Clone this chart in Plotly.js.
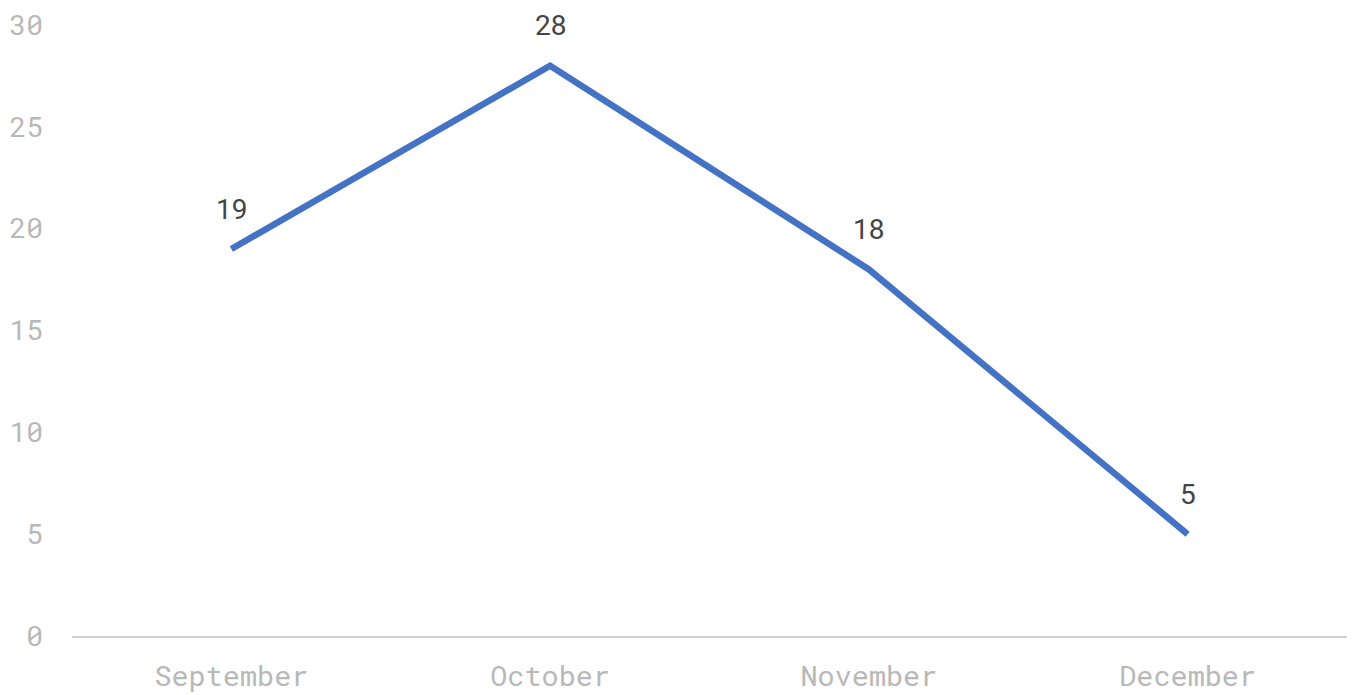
<!DOCTYPE html>
<html><head><meta charset="utf-8">
<script src="https://cdn.plot.ly/plotly-3.0.1.min.js"></script>
<style>html,body{margin:0;padding:0;background:#fff}#chart{width:1352px;height:695px}</style>
</head><body><div id="chart"></div>
<script>
const months = ["September", "October", "November", "December"];
const values = [19, 28, 18, 5];
const yTicks = [0, 5, 10, 15, 20, 25, 30];

const trace = {
  x: months, y: values, type: "scatter", mode: "lines",
  line: {color: "#4472C4", width: 6.5}, hoverinfo: "x+y"
};
const annotations = months.map((m, i) => ({
  x: m, y: values[i], text: String(values[i]), showarrow: false,
  xanchor: "center", yanchor: "middle", yshift: 40,
  font: {family: "Roboto, sans-serif", size: 28, color: "#444"}
}));
const layout = {
  width: 1352, height: 695,
  margin: {l: 72, r: 5, t: 25, b: 59},
  paper_bgcolor: "#fff", plot_bgcolor: "#fff",
  showlegend: false,
  xaxis: {
    type: "category", range: [-0.5, months.length - 0.5],
    showgrid: false, zeroline: false,
    showline: true, linecolor: "#d0d0d0", linewidth: 2,
    ticks: "", ticklabelstandoff: 14,
    tickfont: {family: "'Roboto Mono', 'DejaVu Sans Mono', monospace", size: 28.5, color: "#b8b8b8"}
  },
  yaxis: {
    range: [0, 30], tickvals: yTicks, showgrid: false, zeroline: false,
    showline: false, ticks: "", ticklabelstandoff: 28,
    tickfont: {family: "'Roboto Mono', 'DejaVu Sans Mono', monospace", size: 28, color: "#b8b8b8"}
  },
  annotations: annotations
};
Plotly.newPlot("chart", [trace], layout, {displayModeBar: false, staticPlot: true});
</script></body></html>
